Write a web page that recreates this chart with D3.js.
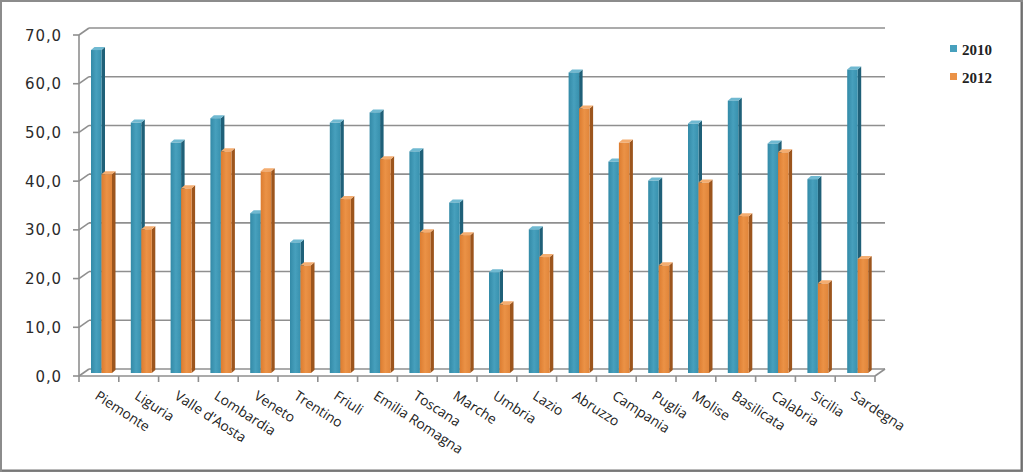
<!DOCTYPE html>
<html>
<head>
<meta charset="utf-8">
<script src="https://cdn.jsdelivr.net/npm/d3@7"></script>
<style>
  body { margin: 0; background: #fff; }
  svg { display: block; }
</style>
</head>
<body>
<svg id="chart"></svg>
<script>
const regions = ['Piemonte', 'Liguria', "Valle d'Aosta", 'Lombardia', 'Veneto', 'Trentino', 'Friuli',
  'Emilia Romagna', 'Toscana', 'Marche', 'Umbria', 'Lazio', 'Abruzzo', 'Campania', 'Puglia',
  'Molise', 'Basilicata', 'Calabria', 'Sicilia', 'Sardegna'];
const years = ['2010', '2012'];
const values2010 = [66.3, 51.4, 47.3, 52.3, 32.8, 26.8, 51.4, 53.5, 45.5, 35.0,
  20.7, 29.5, 61.7, 43.4, 39.5, 51.2, 55.9, 47.1, 39.8, 62.3];
const values2012 = [40.8, 29.5, 37.9, 45.5, 41.4, 22.1, 35.7, 43.9, 28.9, 28.3,
  14.1, 23.8, 54.3, 47.3, 22.1, 39.1, 32.2, 45.3, 18.4, 23.4];
const yTicks = [0, 10, 20, 30, 40, 50, 60, 70];

const W = 1024, H = 473;
const depth = { dx: 10, dy: 7 };     // wall depth
const barDepth = { dx: 3.5, dy: 3 }; // bar depth

const svg = d3.select('#chart').attr('width', W).attr('height', H);

const x = d3.scaleBand().domain(regions).range([79, 875]).padding(0);
const xs = d3.scaleBand().domain(years).range([12, 33]).padding(0);
const y = d3.scaleLinear().domain([0, 70]).range([376, 35]);

const colors = {
  '2010': { front: ['#338aa7', '#47a0bd', '#3891ae'], side: '#1f6078', top: '#70b9d1' },
  '2012': { front: ['#dc7c30', '#eb9246', '#e0853a'], side: '#9c551d', top: '#f4ad70' }
};

const defs = svg.append('defs');
years.forEach(k => {
  const g = defs.append('linearGradient').attr('id', 'g' + k)
    .attr('x1', 0).attr('x2', 1).attr('y1', 0).attr('y2', 0);
  colors[k].front.forEach((c, i) => g.append('stop').attr('offset', i / 2).attr('stop-color', c));
});

// border
svg.append('rect').attr('x', 1).attr('y', 1).attr('width', W - 3).attr('height', H - 3)
  .attr('fill', '#fff').attr('stroke', '#8c8c8c').attr('stroke-width', 2);
svg.append('line').attr('x1', 1021.5).attr('x2', 1021.5).attr('y1', 2).attr('y2', H - 2)
  .attr('stroke', '#6e6e6e').attr('stroke-width', 2);
svg.append('line').attr('x1', 2).attr('x2', W - 2).attr('y1', 470.5).attr('y2', 470.5)
  .attr('stroke', '#777').attr('stroke-width', 2);

const gridColor = '#8f8f8f';
const grid = svg.append('g').attr('stroke', gridColor).attr('stroke-width', 1.6).attr('fill', 'none');

// back wall gridlines and left wall diagonals
yTicks.forEach(v => {
  grid.append('line')
    .attr('x1', 79 + depth.dx).attr('x2', 875 + depth.dx)
    .attr('y1', y(v) - depth.dy).attr('y2', y(v) - depth.dy);
  grid.append('line')
    .attr('x1', 79).attr('x2', 79 + depth.dx)
    .attr('y1', y(v)).attr('y2', y(v) - depth.dy);
  grid.append('line')
    .attr('x1', 73).attr('x2', 79)
    .attr('y1', y(v)).attr('y2', y(v));
});
// left wall front edge
grid.append('line').attr('x1', 79).attr('x2', 79).attr('y1', y(70)).attr('y2', y(0));
// floor front and right edge
grid.append('line').attr('x1', 79).attr('x2', 875).attr('y1', y(0)).attr('y2', y(0));
grid.append('line').attr('x1', 875).attr('x2', 875 + depth.dx)
  .attr('y1', y(0)).attr('y2', y(0) - depth.dy);
// category ticks
regions.concat(['end']).forEach((r, i) => {
  const xx = i < regions.length ? x(r) : 875;
  grid.append('line').attr('x1', xx).attr('x2', xx).attr('y1', y(0)).attr('y2', y(0) + 6);
});

// bars
const data = regions.map((r, i) => ({ region: r, '2010': values2010[i], '2012': values2012[i] }));
const bars = svg.append('g');
data.forEach(d => {
  years.forEach(k => {
    const x0 = x(d.region) + xs(k);
    const w = xs.bandwidth();
    const bottom = y(0) - 3;
    const top = y(d[k]) - 3;
    const { dx, dy } = barDepth;
    const g = bars.append('g');
    g.append('polygon')
      .attr('points', [[x0 + w, top], [x0 + w + dx, top - dy], [x0 + w + dx, bottom - dy], [x0 + w, bottom]].join(' '))
      .attr('fill', colors[k].side);
    g.append('polygon')
      .attr('points', [[x0, top], [x0 + dx, top - dy], [x0 + w + dx, top - dy], [x0 + w, top]].join(' '))
      .attr('fill', colors[k].top);
    g.append('rect').attr('x', x0).attr('y', top).attr('width', w).attr('height', bottom - top)
      .attr('fill', `url(#g${k})`);
  });
});

// y labels
svg.append('g').selectAll('text').data(yTicks).join('text')
  .attr('x', 62).attr('y', d => y(d) + 5.5)
  .attr('text-anchor', 'end')
  .attr('font-family', 'DejaVu Sans, sans-serif').attr('font-size', 15)
  .attr('letter-spacing', 0.9)
  .attr('fill', '#2b2b2b')
  .text(d => d3.format('.1f')(d).replace('.', ','));

// category labels
svg.append('g').selectAll('text').data(regions).join('text')
  .attr('transform', d => `translate(${x(d) + x.bandwidth() / 2 + 1},${y(0) + 13}) rotate(33)`)
  .attr('dy', '0.8em')
  .attr('font-family', 'Open Sans, sans-serif').attr('font-size', 13.8)
  .attr('fill', '#222')
  .text(d => d);

// legend
const legend = svg.append('g').attr('transform', 'translate(950,45)');
years.forEach((k, i) => {
  const row = legend.append('g').attr('transform', `translate(0,${i * 28})`);
  row.append('rect').attr('width', 7).attr('height', 7).attr('fill', colors[k].front[1]);
  row.append('text').attr('x', 12).attr('y', 9.5)
    .attr('font-family', 'Liberation Serif, serif').attr('font-weight', 'bold').attr('font-size', 15)
    .attr('fill', '#222').text(k);
});
</script>
</body>
</html>
